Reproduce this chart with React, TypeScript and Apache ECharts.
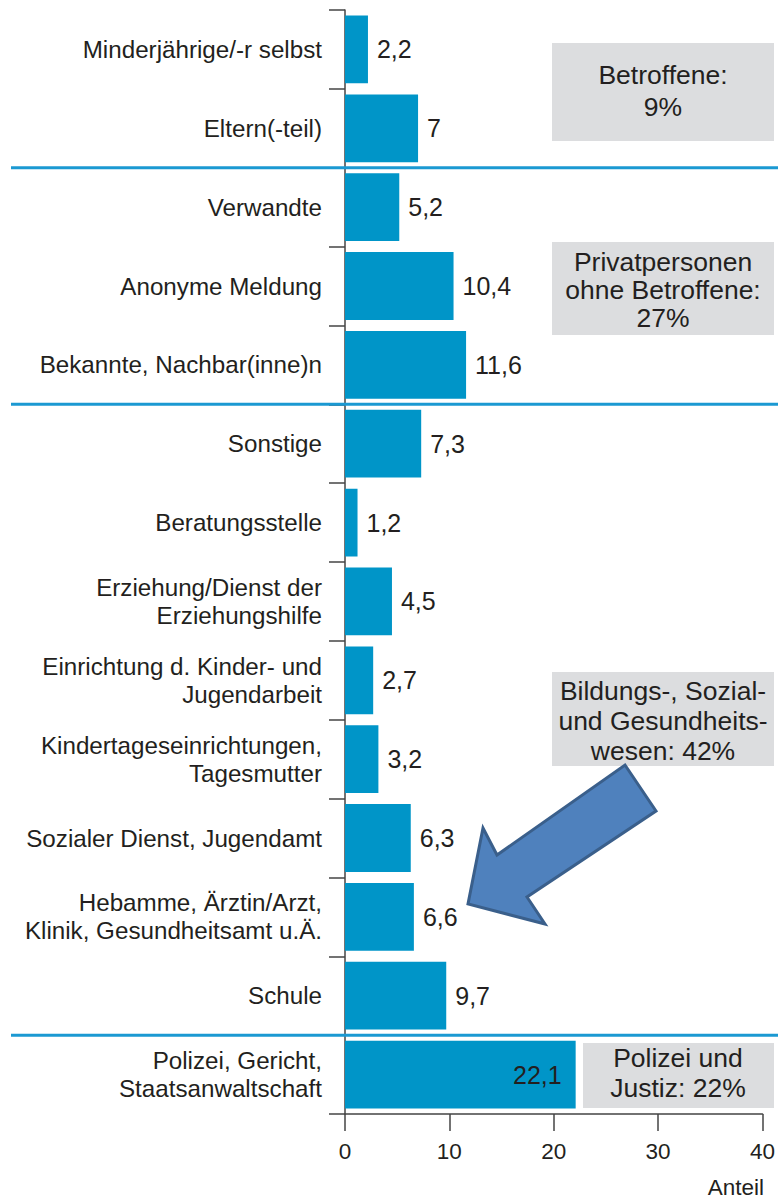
import React, { useEffect, useRef } from "react";
import * as echarts from "echarts";

const categories = [
  "Minderjährige/-r selbst",
  "Eltern(-teil)",
  "Verwandte",
  "Anonyme Meldung",
  "Bekannte, Nachbar(inne)n",
  "Sonstige",
  "Beratungsstelle",
  "Erziehung/Dienst der\nErziehungshilfe",
  "Einrichtung d. Kinder- und\nJugendarbeit",
  "Kindertageseinrichtungen,\nTagesmutter",
  "Sozialer Dienst, Jugendamt",
  "Hebamme, Ärztin/Arzt,\nKlinik, Gesundheitsamt u.Ä.",
  "Schule",
  "Polizei, Gericht,\nStaatsanwaltschaft",
];
const values = [2.2, 7, 5.2, 10.4, 11.6, 7.3, 1.2, 4.5, 2.7, 3.2, 6.3, 6.6, 9.7, 22.1];
// index of last category in each group (separator drawn after it)
const groupEnds = [1, 4, 12];
const groupTexts = [
  "Betroffene:\n9%",
  "Privatpersonen\nohne Betroffene:\n27%",
  "Bildungs-, Sozial-\nund Gesundheits-\nwesen: 42%",
  "Polizei und\nJustiz: 22%",
];
const xTicks = [0, 10, 20, 30, 40];
const axisTitle = "Anteil";

const FONT = "'Liberation Sans', Arial, Helvetica, sans-serif";
const BAR = "#0095c8";
const SEP = "#1b99d2";
const TEXT = "#231f20";
const BOX = "#dcdddf";

export default function App() {
  const ref = useRef<HTMLDivElement>(null);
  useEffect(() => {
    if (!ref.current) return;
    const chart = echarts.init(ref.current, undefined, { renderer: "svg" });
    const fmt = (v: number) => String(v).replace(".", ",");
    chart.setOption({
      animation: false,
      grid: { left: 345, right: 15, top: 10, bottom: 86, containLabel: false },
      xAxis: {
        type: "value",
        min: xTicks[0],
        max: xTicks[xTicks.length - 1],
        interval: 10,
        splitLine: { show: false },
        axisLine: { show: true, lineStyle: { color: "#444", width: 1.5 } },
        axisTick: { show: true, length: 17, lineStyle: { color: "#444", width: 1.5 } },
        axisLabel: { color: TEXT, fontSize: 22.5, fontFamily: FONT, margin: 26 },
      },
      yAxis: {
        type: "category",
        inverse: true,
        data: categories,
        axisLine: { show: true, lineStyle: { color: "#444", width: 1.5 } },
        axisTick: { show: true, length: 16, lineStyle: { color: "#444", width: 1.5 } },
        axisLabel: {
          color: TEXT,
          fontSize: 24.2,
          fontFamily: FONT,
          margin: 23,
          lineHeight: 28,
          align: "right",
        },
      },
      series: [
        {
          type: "bar",
          barCategoryGap: "14%",
          itemStyle: { color: BAR },
          data: values.map((v, i) => ({
            value: v,
            label:
              i === values.length - 1
                ? { position: "insideRight", distance: 14 }
                : { position: "right", distance: 9 },
          })),
          label: {
            show: true,
            color: TEXT,
            fontSize: 25,
            fontFamily: FONT,
            formatter: (p: any) => fmt(p.value),
          },
        },
      ],
    });

    const yc = (i: number) => chart.convertToPixel({ yAxisIndex: 0 }, i) as number;
    const sepY = groupEnds.map((i) => (yc(i) + yc(i + 1)) / 2);

    const textStyle = (text: string, x: number, y: number, lh: number) => ({
      type: "text",
      z: 10,
      style: {
        text,
        x,
        y,
        fill: TEXT,
        fontSize: 26.5,
        fontFamily: FONT,
        textAlign: "center",
        textVerticalAlign: "middle",
        lineHeight: lh,
      },
    });

    const graphic: any[] = [];
    sepY.forEach((y) => {
      graphic.push({
        type: "line",
        z: 5,
        shape: { x1: 11, y1: y, x2: 778, y2: y },
        style: { stroke: SEP, lineWidth: 3 },
      });
    });
    // boxes
    const boxes = [
      { x: 552, y: 43, w: 222, h: 98, tx: 663, ty: 91, lh: 32 },
      { x: 552, y: 242, w: 222, h: 93, tx: 663, ty: 290, lh: 28 },
      { x: 552, y: 672, w: 222, h: 94, tx: 663, ty: 721, lh: 30 },
      { x: 583, y: 1043, w: 191, h: 65, tx: 678, ty: 1073, lh: 30 },
    ];
    boxes.forEach((b, i) => {
      graphic.push({
        type: "rect",
        z: 8,
        shape: { x: b.x, y: b.y, width: b.w, height: b.h },
        style: { fill: BOX },
      });
      graphic.push(textStyle(groupTexts[i], b.tx, b.ty, b.lh));
    });
    // arrow
    graphic.push({
      type: "polygon",
      z: 12,
      shape: {
        points: [
          [625, 765],
          [656, 811],
          [527, 897],
          [545, 924],
          [468, 904],
          [483, 828],
          [497, 855],
        ],
      },
      style: { fill: "#4f81bd", stroke: "#3a5f8b", lineWidth: 3, lineJoin: "miter" },
    });
    graphic.push({
      type: "text",
      z: 10,
      style: {
        text: axisTitle,
        x: 764,
        y: 1187,
        fill: TEXT,
        fontSize: 22.5,
        fontFamily: FONT,
        textAlign: "right",
        textVerticalAlign: "middle",
      },
    });
    chart.setOption({ graphic });

    return () => chart.dispose();
  }, []);
  return (
    <div
      ref={ref}
      style={{ position: "fixed", left: 0, top: 0, width: 778, height: 1200, background: "#fff" }}
    />
  );
}
